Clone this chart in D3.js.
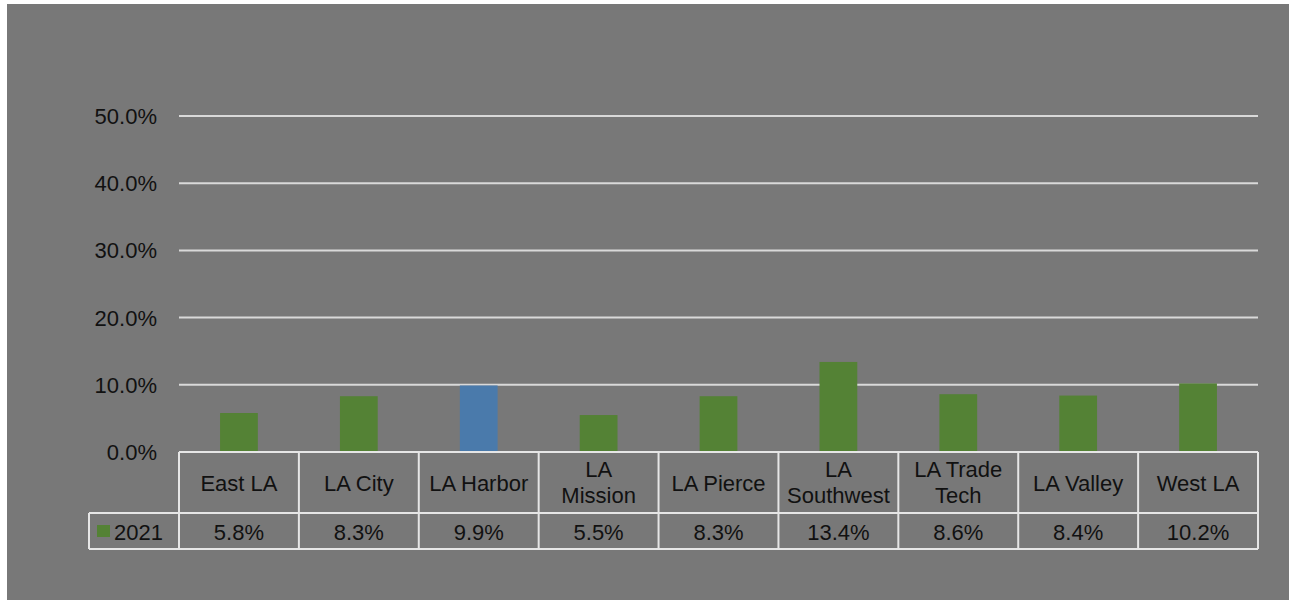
<!DOCTYPE html>
<html>
<head>
<meta charset="utf-8">
<script src="https://cdn.jsdelivr.net/npm/d3@7"></script>
<style>
  body { margin: 0; background: #fff; }
  svg text { font-family: "Liberation Sans", "DejaVu Sans", sans-serif; fill: #111; }
</style>
</head>
<body>
<svg id="chart" width="1289" height="601"></svg>
<script>
// chart data
var colleges = ["East LA", "LA City", "LA Harbor", "LA Mission", "LA Pierce", "LA Southwest", "LA Trade Tech", "LA Valley", "West LA"];
var labelLines = [["East LA"], ["LA City"], ["LA Harbor"], ["LA", "Mission"], ["LA Pierce"], ["LA", "Southwest"], ["LA Trade", "Tech"], ["LA Valley"], ["West LA"]];
var values2021 = [5.8, 8.3, 9.9, 5.5, 8.3, 13.4, 8.6, 8.4, 10.2];
var highlight = "LA Harbor";
var yTicks = [0, 10, 20, 30, 40, 50];
var seriesName = "2021";

var fontSize = 22;
var svg = d3.select("#chart");

// grey panel
svg.append("rect")
    .attr("x", 7).attr("y", 4)
    .attr("width", 1282).attr("height", 596)
    .attr("fill", "#787878");

var margin = {left: 179, right: 1258, top: 116, bottom: 452};

var x = d3.scaleBand()
    .domain(colleges)
    .range([margin.left, margin.right])
    .paddingInner(0).paddingOuter(0);

var y = d3.scaleLinear()
    .domain([0, 50])
    .range([margin.bottom, margin.top]);

// gridlines
svg.append("g")
    .selectAll("line")
    .data(yTicks.filter(function(d) { return d > 0; }))
    .enter().append("line")
    .attr("x1", margin.left).attr("x2", margin.right)
    .attr("y1", function(d) { return y(d); })
    .attr("y2", function(d) { return y(d); })
    .attr("stroke", "#d9d9d9")
    .attr("stroke-width", 2);

// y labels
svg.append("g")
    .selectAll("text")
    .data(yTicks)
    .enter().append("text")
    .attr("x", 157)
    .attr("y", function(d) { return y(d) + 8; })
    .attr("text-anchor", "end")
    .attr("font-size", fontSize)
    .text(function(d) { return d3.format(".1f")(d) + "%"; });

// bars
var barW = x.bandwidth() * 0.315;
svg.append("g")
    .selectAll("rect")
    .data(colleges)
    .enter().append("rect")
    .attr("x", function(d) { return x(d) + (x.bandwidth() - barW) / 2; })
    .attr("y", function(d, i) { return y(values2021[i]); })
    .attr("width", barW)
    .attr("height", function(d, i) { return y(0) - y(values2021[i]); })
    .attr("fill", function(d) { return d == highlight ? "#4a7aab" : "#548235"; });

// data table
var row1 = 513, row2 = 549, legendLeft = 89;
var grid = svg.append("g").attr("stroke", "#e6e6e6").attr("stroke-width", 2).attr("fill", "none");

grid.append("line").attr("x1", margin.left).attr("x2", margin.right).attr("y1", y(0)).attr("y2", y(0));
grid.append("line").attr("x1", legendLeft).attr("x2", margin.right).attr("y1", row1).attr("y2", row1);
grid.append("line").attr("x1", legendLeft).attr("x2", margin.right).attr("y1", row2).attr("y2", row2);
grid.append("line").attr("x1", legendLeft).attr("x2", legendLeft).attr("y1", row1).attr("y2", row2);

grid.selectAll(".v")
    .data(colleges.concat(["end"]))
    .enter().append("line")
    .attr("x1", function(d, i) { return margin.left + i * x.bandwidth(); })
    .attr("x2", function(d, i) { return margin.left + i * x.bandwidth(); })
    .attr("y1", y(0)).attr("y2", row2);

// category labels
var cat = svg.append("g")
    .selectAll("text")
    .data(colleges)
    .enter().append("text")
    .attr("text-anchor", "middle")
    .attr("font-size", fontSize)
    .attr("x", function(d) { return x(d) + x.bandwidth() / 2; })
    .attr("y", function(d, i) { return labelLines[i].length == 1 ? 491 : 477; });

cat.selectAll("tspan")
    .data(function(d, i) { return labelLines[i]; })
    .enter().append("tspan")
    .attr("x", function() { return d3.select(this.parentNode).attr("x"); })
    .attr("dy", function(d, i) { return i == 0 ? 0 : 26; })
    .text(function(d) { return d; });

// values row
svg.append("g")
    .selectAll("text")
    .data(values2021)
    .enter().append("text")
    .attr("text-anchor", "middle")
    .attr("font-size", fontSize)
    .attr("x", function(d, i) { return x(colleges[i]) + x.bandwidth() / 2; })
    .attr("y", 540)
    .text(function(d) { return d3.format(".1f")(d) + "%"; });

// legend key
svg.append("rect")
    .attr("x", 97).attr("y", 525)
    .attr("width", 13).attr("height", 12)
    .attr("fill", "#548235");
svg.append("text")
    .attr("x", 114).attr("y", 540)
    .attr("font-size", fontSize)
    .text(seriesName);
</script>
</body>
</html>
